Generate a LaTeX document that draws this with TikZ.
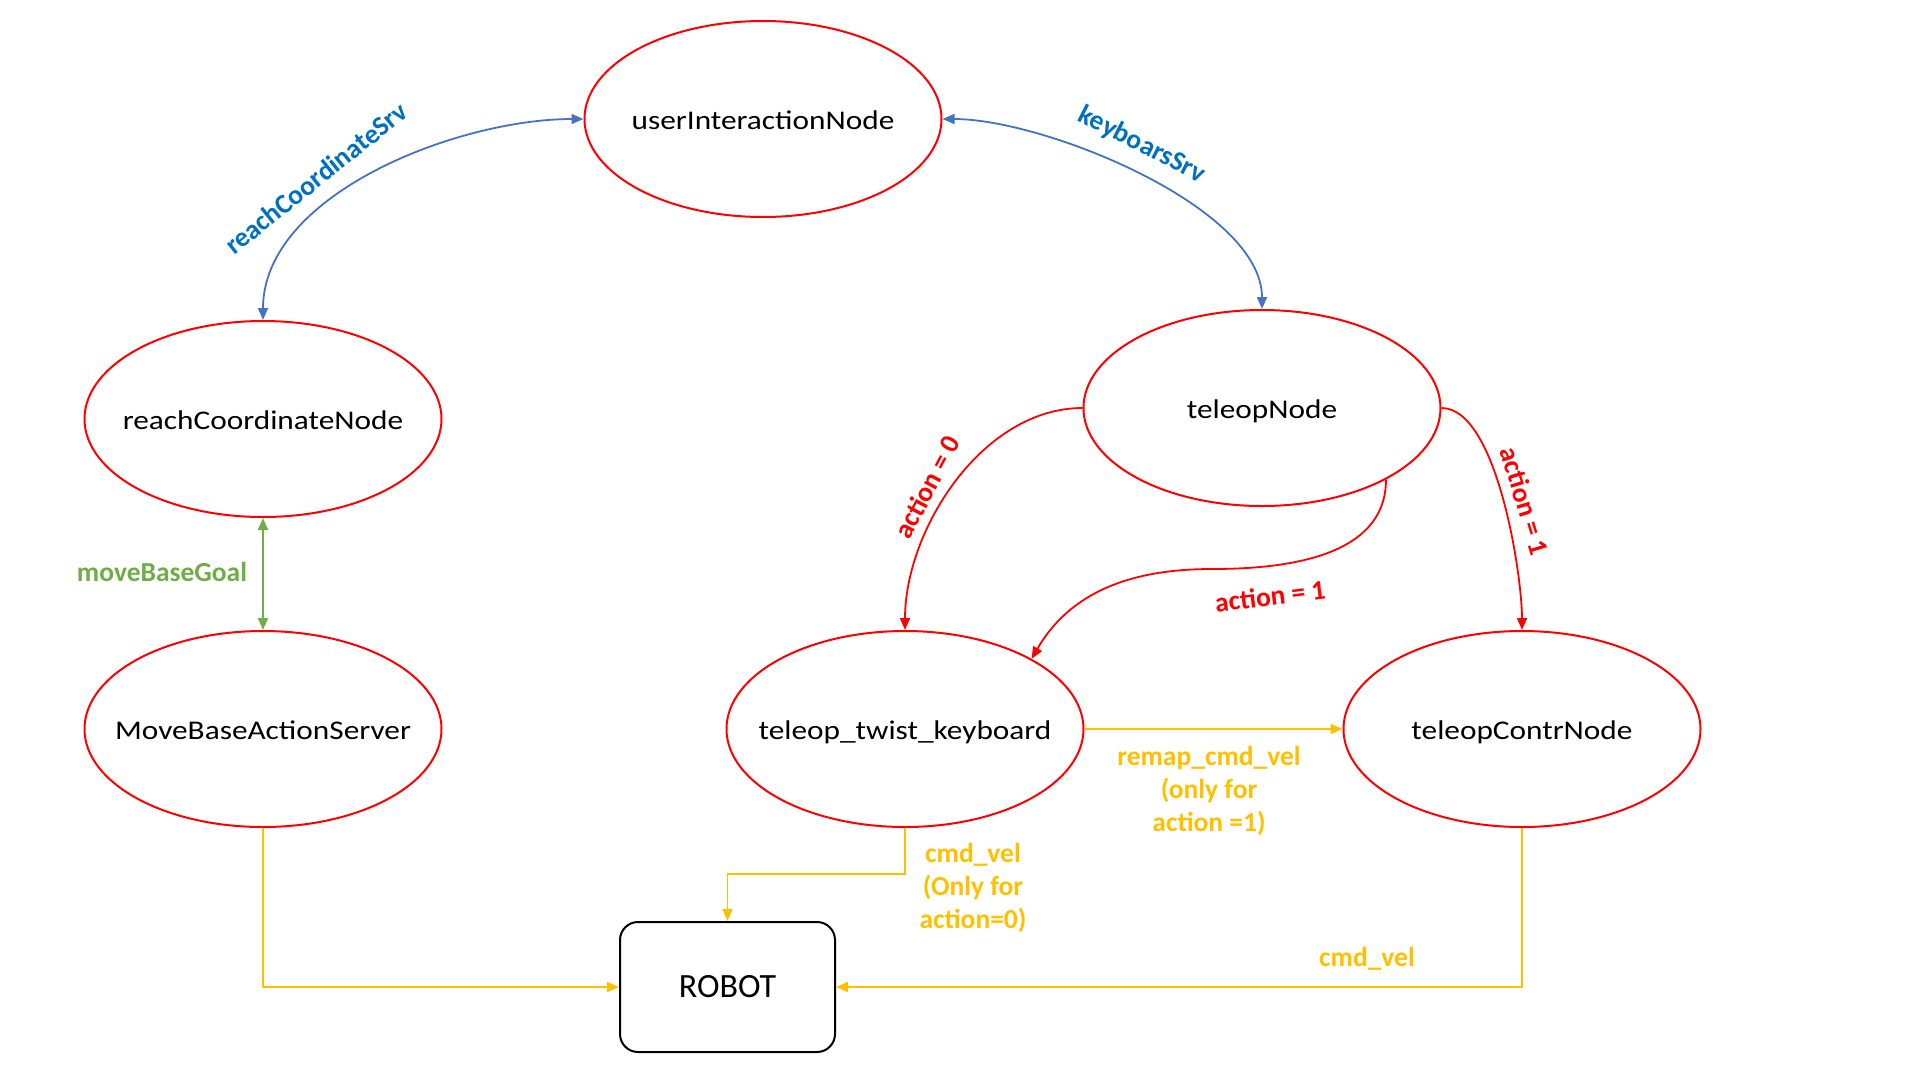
\documentclass[tikz,border=0pt]{standalone}
\usepackage{fontspec}
\setmainfont{Carlito}
\newfontfamily\nodefont{Carlito}[FakeStretch=1.16]
\usetikzlibrary{shapes.geometric,arrows.meta}
\definecolor{nodered}{HTML}{FF0000}
\definecolor{bline}{HTML}{4472C4}
\definecolor{blabel}{HTML}{0070C0}
\definecolor{gline}{HTML}{70AD47}
\definecolor{yline}{HTML}{FFC000}
\begin{document}
\begin{tikzpicture}[x=1pt,y=-1pt,
  state/.style={ellipse, draw=nodered, line width=2pt, minimum width=357pt, minimum height=196pt, inner sep=0pt,
    label={[font=\nodefont\fontsize{27}{32}\selectfont, text height=23pt, text depth=3pt, inner sep=0pt]center:#1}},
  robotbox/.style={draw=black, line width=2pt, rounded corners=18pt, minimum width=215pt, minimum height=130pt, inner sep=0pt, font=\fontsize{34}{40}\selectfont},
  lbl/.style={font=\bfseries\fontsize{27.5}{33}\selectfont, align=center, inner sep=0pt},
  tip/.style={arrows={-Triangle[length=12pt,width=10pt]}},
  dtip/.style={arrows={Triangle[length=12pt,width=10pt]-Triangle[length=12pt,width=10pt]}},
  bconn/.style={draw=bline, line width=1.8pt, dtip, bline},
  gconn/.style={draw=gline, line width=1.8pt, dtip, gline},
  rconn/.style={draw=nodered, line width=1.8pt, tip, nodered},
  yconn/.style={draw=yline, line width=1.8pt, tip, yline}
]
\useasboundingbox (0,0) rectangle (1920,1080);

% nodes
\node[state={userInteractionNode}] (uin) at (763,119) {};
\node[state={reachCoordinateNode}] (rcn) at (263,419) {};
\node[state={teleopNode}] (tn) at (1262,408) {};
\node[state={MoveBaseActionServer}] (mbas) at (263,729) {};
\node[state={teleop\_twist\_keyboard}] (ttk) at (905,729) {};
\node[state={teleopContrNode}] (tcn) at (1522,729) {};
\node[robotbox] (robot) at (727.5,987) {ROBOT};

% helper coordinates
\coordinate (mid) at (1212,569);
\coordinate (ttkbend) at (905,874);

% connectors
\draw[bconn] (rcn.north) to[out=90,in=180,looseness=0.85] (uin.west);
\draw[bconn] (uin.east) to[out=0,in=90,looseness=0.7] (tn.north);
\draw[gconn] (rcn.south) -- (mbas.north);
\draw[rconn] (tn.west) to[out=180,in=90,looseness=0.9] (ttk.north);
\draw[rconn] (tn.east) to[out=0,in=90,looseness=0.6] (tcn.north);
\draw[rconn] (tn.-30) to[out=-90,in=0] (mid) to[out=180,in=60] (ttk.29);
\draw[yconn] (ttk.east) -- (tcn.west);
\draw[yconn] (ttk.south) -- (ttkbend) -| (robot.north);
\draw[yconn] (mbas.south) |- (robot.west);
\draw[yconn] (tcn.south) |- (robot.east);

% labels
\node[lbl, text=blabel, rotate=38.7] (lrcs) at (316,178) {reachCoordinateSrv};
\node[lbl, text=blabel, rotate=-27] (lkbs) at (1142,145) {keyboarsSrv};
\node[lbl, text=gline] (lmbg) at (162,572) {moveBaseGoal};
\node[lbl, text=nodered, rotate=62] (la0) at (927,487) {action = 0};
\node[lbl, text=nodered, rotate=-73] (la1r) at (1525,501) {action = 1};
\node[lbl, text=nodered, rotate=7] (la1m) at (1270,596) {action = 1};
\node[lbl, text=yline] (lremap) at (1209,791) {remap\_cmd\_vel\\(only for\\action =1)};
\node[lbl, text=yline] (lcmd0) at (973,888) {cmd\_vel\\(Only for\\action=0)};
\node[lbl, text=yline] (lcmd) at (1367,959) {cmd\_vel};
\end{tikzpicture}
\end{document}
